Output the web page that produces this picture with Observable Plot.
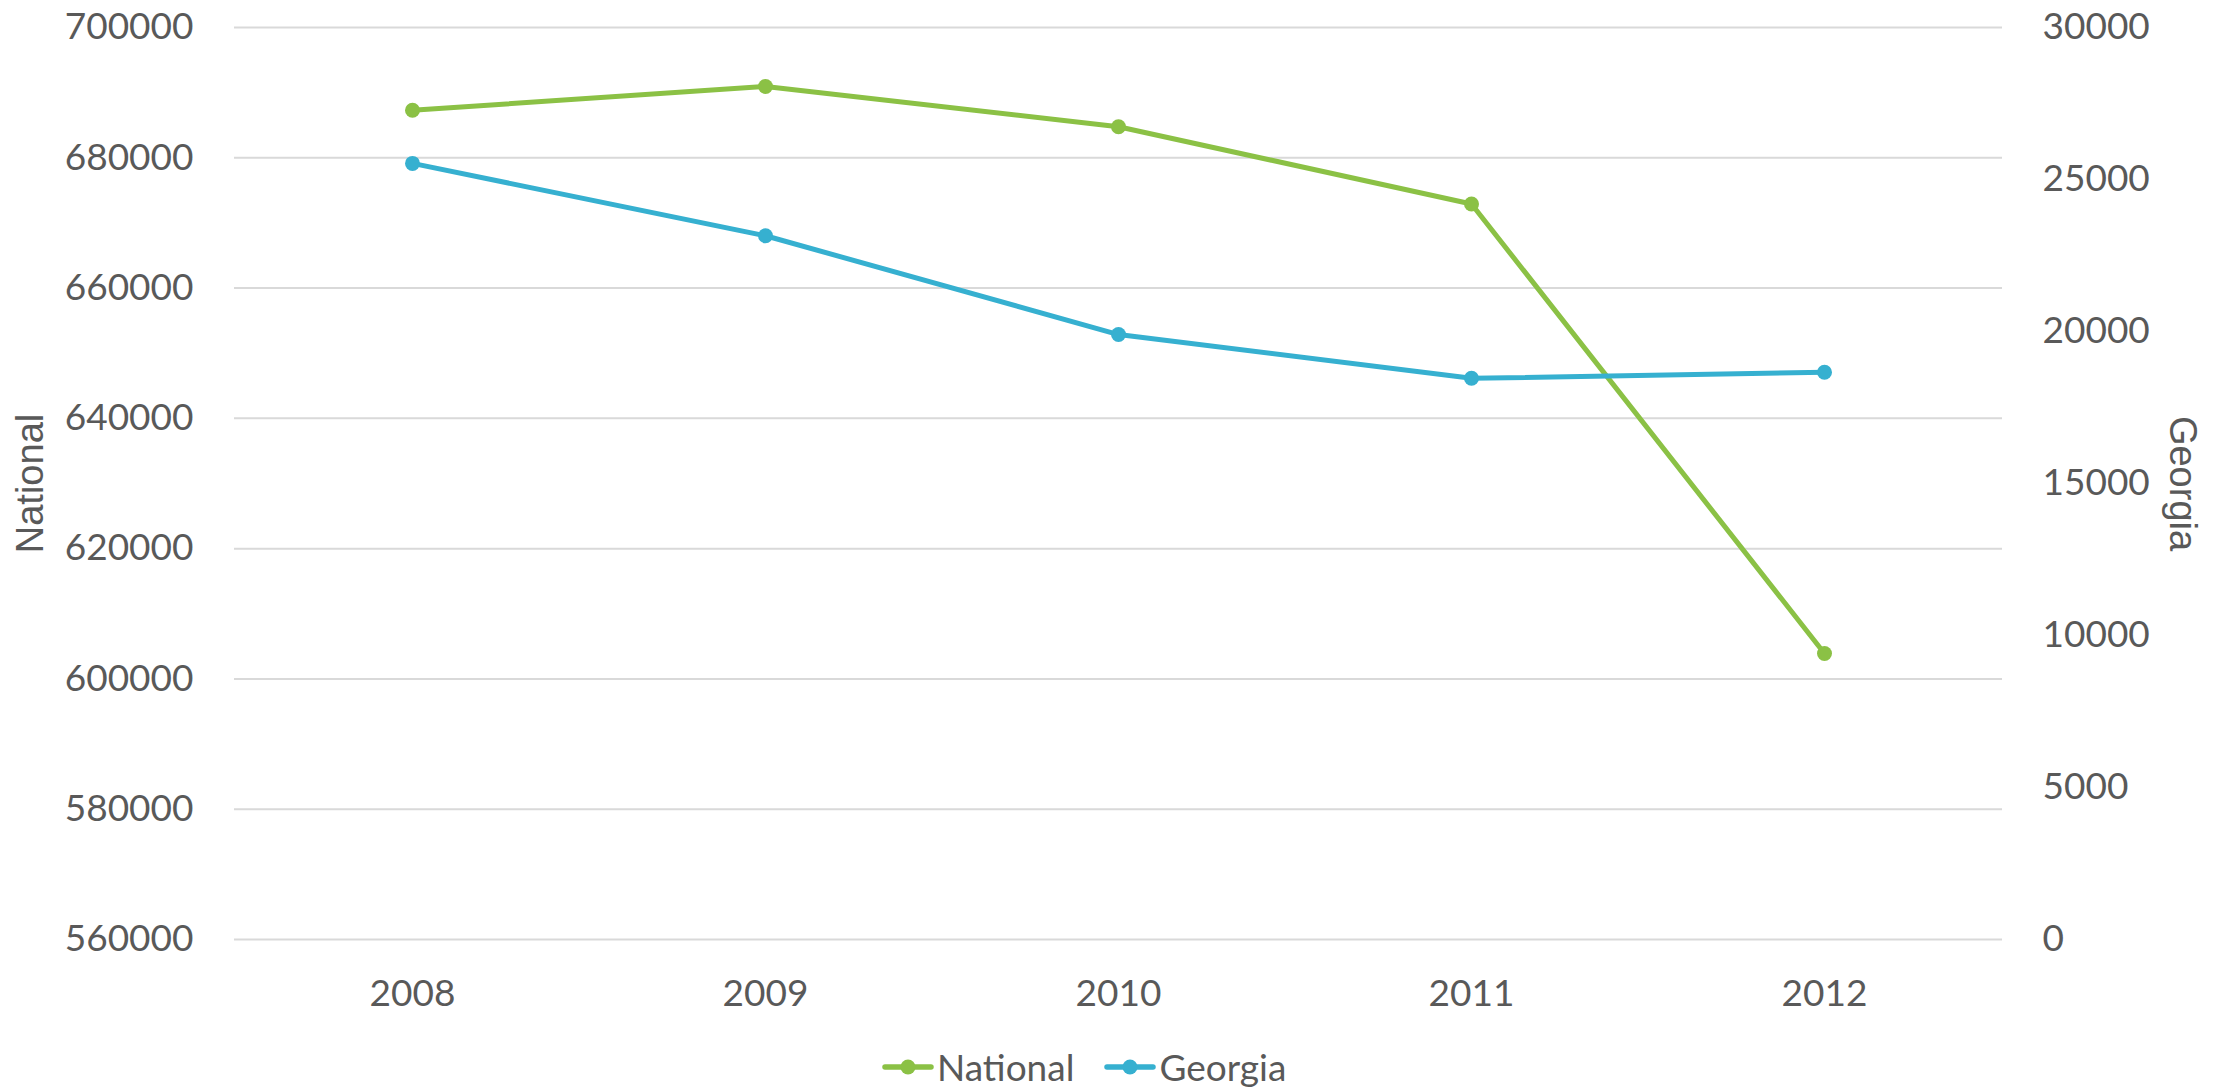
<!DOCTYPE html>
<html>
<head>
<meta charset="utf-8">
<script src="https://cdn.jsdelivr.net/npm/d3@7"></script>
<script src="https://cdn.jsdelivr.net/npm/@observablehq/plot@0.6"></script>
<style>
  html, body { margin: 0; padding: 0; background: #ffffff; }
  #chart svg { display: block; }
  #legend { display: flex; align-items: center; height: 44px; line-height: 44px;
    margin-left: 882px; font-family: "Lato", sans-serif; font-size: 37px; color: #595959; }
  .item { display: flex; align-items: center; margin-right: 30px; }
  .item svg { display: block; margin-right: 3px; }
</style>
</head>
<body>
<div id="chart"></div>
<div id="legend"></div>
<script>
const years = ["2008", "2009", "2010", "2011", "2012"];
const national = [687300, 690950, 684770, 672900, 603900];
const georgia = [25530, 23150, 19900, 18460, 18660];
const nationalTicks = [560000, 580000, 600000, 620000, 640000, 660000, 680000, 700000];
const georgiaTicks = [0, 5000, 10000, 15000, 20000, 25000, 30000];
const seriesNames = ["National", "Georgia"];
const colors = ["#8BC145", "#36B0D0"];

// map secondary (Georgia) axis onto primary (National) scale
const natMin = 560000, natMax = 700000, geoMax = 30000;
const toNat = g => natMin + g * (natMax - natMin) / geoMax;
const fromNat = n => (n - natMin) * geoMax / (natMax - natMin);

const rows = years.map((year, i) => ({
  year,
  national: national[i],
  georgia: georgia[i],
  georgiaMapped: toNat(georgia[i])
}));

const chart = Plot.plot({
  width: 2226,
  height: 1045,
  marginTop: 27,
  marginLeft: 234,
  marginRight: 224,
  marginBottom: 106,
  style: { fontFamily: "Lato, sans-serif", fontSize: "37px", color: "#595959", background: "#ffffff" },
  x: { type: "point", domain: years, padding: 0.5 },
  y: { domain: [natMin, natMax] },
  marks: [
    Plot.gridY(nationalTicks, { stroke: "#d9d9d9", strokeOpacity: 1, strokeWidth: 2 }),
    Plot.axisY(nationalTicks, { anchor: "left", tickSize: 0, tickPadding: 41, tickFormat: d => String(d), label: null }),
    Plot.axisY(georgiaTicks.map(toNat), { anchor: "right", tickSize: 0, tickPadding: 40, tickFormat: d => String(Math.round(fromNat(d))), label: null }),
    Plot.axisX(years, { anchor: "bottom", tickSize: 0, tickPadding: 40, label: null }),
    Plot.lineY(rows, { x: "year", y: "national", stroke: colors[0], strokeWidth: 5 }),
    Plot.dot(rows, { x: "year", y: "national", fill: colors[0], r: 7.5 }),
    Plot.lineY(rows, { x: "year", y: "georgiaMapped", stroke: colors[1], strokeWidth: 5 }),
    Plot.dot(rows, { x: "year", y: "georgiaMapped", fill: colors[1], r: 7.5 }),
    Plot.text([seriesNames[0]], { frameAnchor: "left", textAnchor: "middle", rotate: -90, dx: -204, lineAnchor: "middle",
      fontFamily: "Liberation Sans, sans-serif", fontSize: 38, fill: "#595959" }),
    Plot.text([seriesNames[1]], { frameAnchor: "right", textAnchor: "middle", rotate: 90, dx: 180, lineAnchor: "middle",
      fontFamily: "Liberation Sans, sans-serif", fontSize: 38, fill: "#595959" })
  ]
});
document.getElementById("chart").appendChild(chart);

const legend = document.getElementById("legend");
seriesNames.forEach((name, i) => {
  const item = document.createElement("div");
  item.className = "item";
  item.innerHTML = `<svg width="52" height="18" viewBox="0 0 52 18">
      <line x1="3" y1="9" x2="49" y2="9" stroke="${colors[i]}" stroke-width="5.5" stroke-linecap="round"/>
      <circle cx="26" cy="9" r="7.5" fill="${colors[i]}"/>
    </svg><span>${name}</span>`;
  legend.appendChild(item);
});
</script>
</body>
</html>
